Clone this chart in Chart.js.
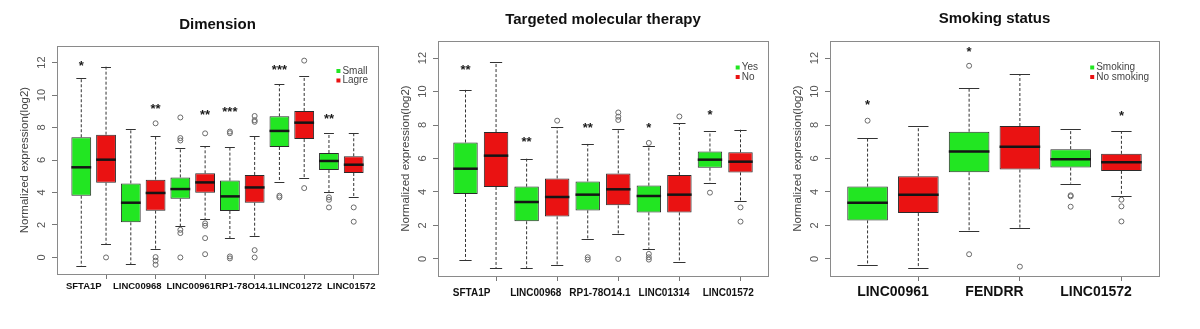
<!DOCTYPE html>
<html>
<head>
  <meta charset="utf-8">
  <title>Expression boxplots</title>
  <script src="https://cdn.jsdelivr.net/npm/chart.js"></script>
  <style>
    body { margin: 0; background: #fff; width: 1200px; height: 329px; overflow: hidden; position: relative; }
    canvas { position: absolute; top: 0; }
  </style>
</head>
<body>
  <canvas id="dimChart" width="400" height="329" style="left:0"></canvas>
  <canvas id="therapyChart" width="400" height="329" style="left:400px"></canvas>
  <canvas id="smokeChart" width="420" height="329" style="left:780px"></canvas>

  <script>
    // box stats are [lower whisker, Q1, median, Q3, upper whisker]
    const yTicks = [0, 2, 4, 6, 8, 10, 12];

    // Dimension
    const dimGenes = ['SFTA1P', 'LINC00968', 'LINC00961', 'RP1-78O14.1', 'LINC01272', 'LINC01572'];
    const dimGroups = ['Small', 'Lagre'];
    const dimSmall = [[-0.55, 3.8, 5.55, 7.4, 11.03], [-0.41, 2.16, 3.37, 4.56, 7.91], [1.93, 3.62, 4.21, 4.93, 6.76],
                      [1.19, 2.86, 3.76, 4.73, 6.78], [4.62, 6.8, 7.79, 8.69, 10.68], [4.03, 5.38, 5.94, 6.43, 7.64]];
    const dimLarge = [[0.82, 4.6, 6.02, 7.56, 11.75], [0.49, 2.88, 3.97, 4.79, 7.5], [2.36, 3.99, 4.62, 5.18, 6.84],
                      [1.34, 3.37, 4.31, 5.08, 7.46], [4.87, 7.29, 8.3, 9.02, 11.16], [3.7, 5.2, 5.71, 6.23, 7.66]];
    const dimSmallOut = [[], [], [8.62, 7.35, 7.2, 1.7, 1.5, 0.0], [7.75, 7.65, 0.06, -0.06], [3.8, 3.7], [3.7, 3.55, 3.08]];
    const dimLargeOut = [[0.0], [8.26, 0.02, -0.2, -0.45], [7.64, 2.1, 1.95, 1.19, 0.2], [8.71, 8.45, 8.35, 0.45, 0.0], [12.12, 4.27], [3.08, 2.2]];
    const dimSmallSig = ['*', '', '', '***', '***', '**'];
    const dimSmallSigY = [12.0, null, null, 9.15, 11.7, 8.7];
    const dimLargeSig = ['', '**', '**', '', '', ''];
    const dimLargeSigY = [null, 9.3, 8.94, null, null, null];

    // Targeted molecular therapy
    const therapyGenes = ['SFTA1P', 'LINC00968', 'RP1-78O14.1', 'LINC01314', 'LINC01572'];
    const therapyGroups = ['Yes', 'No'];
    const therapyYes = [[-0.04, 3.88, 5.39, 6.96, 10.1], [-0.54, 2.25, 3.4, 4.32, 5.99], [1.21, 2.9, 3.84, 4.63, 6.87],
                        [0.6, 2.78, 3.76, 4.38, 6.73], [4.54, 5.45, 5.93, 6.42, 7.62]];
    const therapyNo = [[-0.54, 4.3, 6.17, 7.58, 11.74], [-0.38, 2.54, 3.7, 4.81, 7.88], [1.49, 3.2, 4.16, 5.11, 7.76],
                       [-0.2, 2.78, 3.84, 5.01, 8.12], [3.48, 5.17, 5.81, 6.37, 7.72]];
    const therapyYesOut = [[], [], [0.1, -0.04], [6.93, 0.3, 0.1, -0.04], [3.96]];
    const therapyNoOut = [[], [8.26], [8.75, 8.5, 8.3, 0.0], [8.51], [3.08, 2.23]];
    const therapyYesSig = ['**', '**', '**', '*', '*'];
    const therapyYesSigY = [11.44, 7.16, 7.98, 7.98, 8.75];
    const therapyNoSig = ['', '', '', '', ''];
    const therapyNoSigY = [null, null, null, null, null];

    // Smoking status
    const smokeGenes = ['LINC00961', 'FENDRR', 'LINC01572'];
    const smokeGroups = ['Smoking', 'No smoking'];
    const smokeYes = [[-0.36, 2.3, 3.36, 4.32, 7.2], [1.66, 5.18, 6.42, 7.6, 10.2], [4.5, 5.46, 5.96, 6.56, 7.74]];
    const smokeNo = [[-0.54, 2.74, 3.84, 4.94, 7.94], [1.84, 5.34, 6.7, 7.94, 11.04], [3.78, 5.26, 5.78, 6.28, 7.64]];
    const smokeYesOut = [[8.26], [11.54, 0.28], [3.8, 3.74, 3.12]];
    const smokeNoOut = [[], [-0.46], [3.54, 3.14, 2.24]];
    const smokeYesSig = ['*', '*', ''];
    const smokeYesSigY = [9.36, 12.54, null];
    const smokeNoSig = ['', '', '*'];
    const smokeNoSigY = [null, null, 8.7];

    const FILLS = ['#22e622', '#ea1212'];
    Chart.defaults.font.family = '"Liberation Sans", Arial, sans-serif';

    const pos = (g, k) => 2 * g + k + 1;

    const boxExtras = {
      id: 'boxExtras',
      afterDatasetsDraw(chart) {
        const p = chart.options.plugins.boxExtras;
        const { ctx, chartArea: a } = chart;
        const x = chart.scales.x, y = chart.scales.y;
        ctx.save();

        // whiskers, caps, medians
        p.stats.forEach((series, k) => series.forEach((s, g) => {
          const c = x.getPixelForValue(pos(g, k));
          const half = x.getPixelForValue(pos(g, k) + 0.4) - c;
          const cap = half / 2;
          ctx.strokeStyle = '#333';
          ctx.lineWidth = 1;
          ctx.setLineDash([3, 2]);
          ctx.beginPath();
          ctx.moveTo(c, y.getPixelForValue(s[3])); ctx.lineTo(c, y.getPixelForValue(s[4]));
          ctx.moveTo(c, y.getPixelForValue(s[1])); ctx.lineTo(c, y.getPixelForValue(s[0]));
          ctx.stroke();
          ctx.setLineDash([]);
          ctx.beginPath();
          [s[0], s[4]].forEach(v => {
            const py = Math.round(y.getPixelForValue(v)) + 0.5;
            ctx.moveTo(c - cap, py); ctx.lineTo(c + cap, py);
          });
          ctx.stroke();
          ctx.strokeStyle = '#151515';
          ctx.lineWidth = 2.5;
          ctx.beginPath();
          const my = y.getPixelForValue(s[2]);
          ctx.moveTo(c - half, my); ctx.lineTo(c + half, my);
          ctx.stroke();
        }));

        // significance stars
        ctx.fillStyle = '#1a1a1a';
        ctx.font = 'bold 13px "Liberation Sans", Arial, sans-serif';
        ctx.textAlign = 'center';
        ctx.textBaseline = 'alphabetic';
        p.sig.forEach((row, k) => row.forEach((t, g) => {
          if (!t) return;
          ctx.fillText(t, x.getPixelForValue(pos(g, k)), y.getPixelForValue(p.sigY[k][g]) + 7);
        }));

        // frame
        ctx.strokeStyle = '#8a8a8a';
        ctx.lineWidth = 1;
        ctx.strokeRect(Math.round(a.left) + 0.5, Math.round(a.top) + 0.5,
                       Math.round(a.right - a.left), Math.round(a.bottom - a.top));

        // rotated y tick labels and y title
        ctx.fillStyle = '#555';
        ctx.font = '11px "Liberation Sans", Arial, sans-serif';
        ctx.textBaseline = 'middle';
        yTicks.forEach(v => {
          ctx.save();
          ctx.translate(a.left - 15, y.getPixelForValue(v));
          ctx.rotate(-Math.PI / 2);
          ctx.fillText(String(v), 0, 0);
          ctx.restore();
        });
        ctx.fillStyle = '#444';
        ctx.font = '11.5px "Liberation Sans", Arial, sans-serif';
        ctx.save();
        ctx.translate(a.left - 32, (a.top + a.bottom) / 2);
        ctx.rotate(-Math.PI / 2);
        ctx.fillText('Normalized expression(log2)', 0, 0);
        ctx.restore();

        // title
        ctx.fillStyle = '#111';
        ctx.font = 'bold 15px "Liberation Sans", Arial, sans-serif';
        ctx.fillText(p.title, (a.left + a.right) / 2, a.top - p.titleGap);

        // legend
        ctx.font = '10px "Liberation Sans", Arial, sans-serif';
        const w = Math.max(...p.groups.map(t => ctx.measureText(t).width));
        const tx = a.right - 10 - w;
        ctx.textAlign = 'left';
        p.groups.forEach((t, k) => {
          const ly = a.top + p.legendTop + k * 9.5;
          ctx.fillStyle = FILLS[k];
          ctx.fillRect(tx - 6, ly - 2, 4, 4);
          ctx.fillStyle = '#444';
          ctx.fillText(t, tx, ly);
        });
        ctx.restore();
      }
    };

    function makePanel(id, cfg) {
      const n = cfg.genes.length * 2;
      const mid = (cfg.genes.length - 1) / 2;
      const datasets = [0, 1].map(k => ({
        type: 'bar',
        label: cfg.groups[k],
        data: cfg.stats[k].map((s, g) => ({ x: pos(g, k), y: [s[1], s[3]] })),
        backgroundColor: FILLS[k],
        borderColor: '#2b2b2b',
        borderWidth: 1,
        borderSkipped: false,
        grouped: false,
        barPercentage: 0.8,
        categoryPercentage: 1
      }));
      const outPts = [];
      cfg.outs.forEach((series, k) => series.forEach((vals, g) => vals.forEach(v => outPts.push({ x: pos(g, k), y: v }))));
      datasets.push({
        type: 'scatter',
        data: outPts,
        pointStyle: 'circle',
        pointRadius: 2.5,
        borderWidth: 1,
        borderColor: '#6a6a6a',
        backgroundColor: 'rgba(0,0,0,0)'
      });

      const xMin = 0.5 - 0.04 * n, xMax = n + 0.5 + 0.04 * n;
      return new Chart(document.getElementById(id), {
        type: 'bar',
        data: { datasets },
        plugins: [boxExtras],
        options: {
          responsive: false,
          animation: false,
          layout: { padding: cfg.padding },
          plugins: {
            legend: { display: false },
            tooltip: { enabled: false },
            boxExtras: {
              title: cfg.title, titleGap: cfg.titleGap, groups: cfg.groups,
              stats: cfg.stats, sig: cfg.sig, sigY: cfg.sigY, legendTop: cfg.legendTop
            }
          },
          scales: {
            // tick marks under the second box of each pair
            x: {
              type: 'linear',
              offset: false,
              weight: 0,
              min: xMin,
              max: xMax,
              afterBuildTicks: s => { s.ticks = cfg.genes.map((_, g) => ({ value: pos(g, 1) })); },
              afterFit: s => { s.height = 5; },
              border: { display: false },
              grid: { offset: false, drawOnChartArea: false, drawTicks: true, tickLength: 5, color: '#777' },
              ticks: { display: false }
            },
            // gene names, centred under each pair
            xl: {
              type: 'linear',
              position: 'bottom',
              offset: false,
              weight: 1,
              min: xMin,
              max: xMax,
              afterBuildTicks: s => {
                s.ticks = cfg.genes.map((_, g) => ({ value: 2 * g + 1.5 + cfg.labelShift + cfg.labelSpread * (g - mid) }));
              },
              afterFit: s => { s.height = cfg.xHeight - 5; },
              border: { display: false },
              grid: { display: false, drawTicks: false },
              ticks: {
                autoSkip: false, minRotation: 0, maxRotation: 0,
                callback: (v, i) => cfg.genes[i],
                padding: cfg.labelPad,
                color: '#111',
                font: { size: cfg.labelSize, weight: 'bold' }
              }
            },
            y: {
              min: -1.02,
              max: 13.02,
              afterBuildTicks: s => { s.ticks = yTicks.map(v => ({ value: v })); },
              afterFit: s => { s.width = 20; },
              border: { display: false },
              grid: { drawOnChartArea: false, drawTicks: true, tickLength: 5, color: '#777' },
              ticks: { display: false }
            }
          }
        }
      });
    }

    makePanel('dimChart', {
      title: 'Dimension', titleGap: 21, genes: dimGenes, groups: dimGroups,
      stats: [dimSmall, dimLarge], outs: [dimSmallOut, dimLargeOut],
      sig: [dimSmallSig, dimLargeSig], sigY: [dimSmallSigY, dimLargeSigY],
      padding: { left: 37, right: 22, top: 46, bottom: 0 }, xHeight: 55,
      labelShift: 0, labelSpread: 0.16, labelPad: 2, labelSize: 9.5, legendTop: 25
    });

    makePanel('therapyChart', {
      title: 'Targeted molecular therapy', titleGap: 21, genes: therapyGenes, groups: therapyGroups,
      stats: [therapyYes, therapyNo], outs: [therapyYesOut, therapyNoOut],
      sig: [therapyYesSig, therapyNoSig], sigY: [therapyYesSigY, therapyNoSigY],
      padding: { left: 18, right: 32, top: 41, bottom: 0 }, xHeight: 53,
      labelShift: -0.1, labelSpread: 0.1, labelPad: 6.5, labelSize: 10, legendTop: 26.5
    });

    makePanel('smokeChart', {
      title: 'Smoking status', titleGap: 22, genes: smokeGenes, groups: smokeGroups,
      stats: [smokeYes, smokeNo], outs: [smokeYesOut, smokeNoOut],
      sig: [smokeYesSig, smokeNoSig], sigY: [smokeYesSigY, smokeNoSigY],
      padding: { left: 30, right: 41, top: 41, bottom: 0 }, xHeight: 53,
      labelShift: 0, labelSpread: 0, labelPad: 3, labelSize: 14, legendTop: 26.5
    });
  </script>
</body>
</html>
